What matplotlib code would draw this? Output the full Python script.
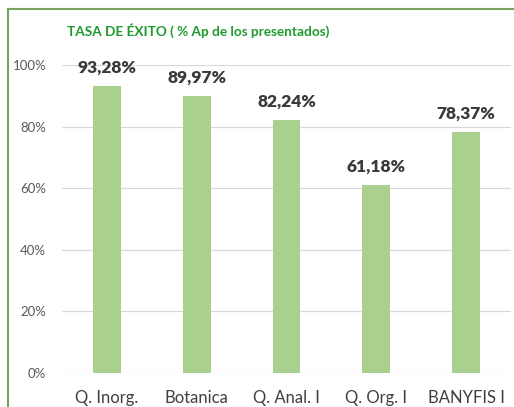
import matplotlib
matplotlib.use("Agg")
import matplotlib.pyplot as plt
from matplotlib.lines import Line2D
from matplotlib.ticker import FuncFormatter

categories = ["Q. Inorg.", "Botanica", "Q. Anal. I", "Q. Org. I", "BANYFIS I"]
values = [93.28, 89.97, 82.24, 61.18, 78.37]
value_labels = ["93,28%", "89,97%", "82,24%", "61,18%", "78,37%"]
yticks = [0, 20, 40, 60, 80, 100]

W, H = 514, 407
fig = plt.figure(figsize=(W / 100, H / 100), dpi=100)
fig.patch.set_facecolor("white")

font = ["Lato", "DejaVu Sans"]

# axes: x 62..511, y 65..373 (pixels from top)
ax = fig.add_axes([62 / W, 1 - 373 / H, (511 - 62) / W, (373 - 65) / H])
x = list(range(len(categories)))
ax.bar(x, values, width=0.31, color="#a9d08e", zorder=3)
ax.set_xlim(-0.5, len(categories) - 0.5)
ax.set_ylim(0, 100)
ax.set_yticks(yticks)
ax.yaxis.set_major_formatter(FuncFormatter(lambda v, p: f"{int(v)}%"))
ax.grid(axis="y", color="#d9d9d9", linewidth=0.9, zorder=0)
for s in ax.spines.values():
    s.set_visible(False)
ax.tick_params(axis="y", length=0, pad=11.5, labelsize=9.5, labelcolor="#595959")
ax.tick_params(axis="x", length=0, pad=12, labelsize=12, labelcolor="#404040")
ax.set_xticks(x)
ax.set_xticklabels(categories)
for lab in ax.get_yticklabels() + ax.get_xticklabels():
    lab.set_fontfamily(font)

for xi, v, t in zip(x, values, value_labels):
    ax.annotate(t, (xi, v), xytext=(0, 7), textcoords="offset points",
                ha="center", va="bottom", fontsize=12.5, fontweight="heavy",
                color="#3a3a3a", family=font)

fig.text(67 / W, 1 - 31 / H, "TASA DE ÉXITO ( % Ap de los presentados)",
         ha="left", va="center", fontsize=9.8, fontweight="bold",
         color="#1e9b2c", family=font)

# chart border (left and top visible)
fig.add_artist(Line2D([8 / W, 8 / W], [0, 1 - 9 / H], transform=fig.transFigure,
                      color="#7aa35e", linewidth=1.5))
fig.add_artist(Line2D([8 / W, 1], [1 - 9 / H, 1 - 9 / H], transform=fig.transFigure,
                      color="#7aa35e", linewidth=1.5))

fig.savefig("out.png", dpi=100)
